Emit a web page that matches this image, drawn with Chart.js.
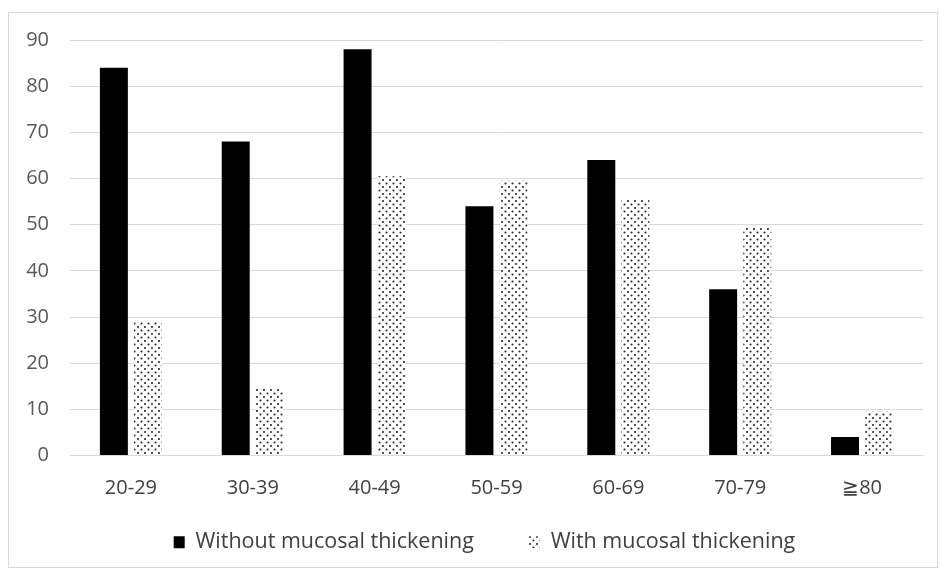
<!DOCTYPE html>
<html>
<head>
<meta charset="utf-8">
<script src="https://cdn.jsdelivr.net/npm/chart.js@4.4.0/dist/chart.umd.min.js"></script>
<style>
  html, body { margin: 0; padding: 0; background: #ffffff; }
  #wrap { width: 940px; height: 571px; position: relative; }
</style>
</head>
<body>
<div id="wrap"><canvas id="c" width="940" height="571"></canvas></div>
<script>
const categories = ["20-29", "30-39", "40-49", "50-59", "60-69", "70-79", "≧80"];
const withoutThickening = [84, 68, 88, 54, 64, 36, 4];
const withThickening = [29, 14.5, 60.5, 59.5, 55.5, 49.5, 9.5];
const seriesNames = ["Without mucosal thickening", "With mucosal thickening"];
const yTicks = { min: 0, max: 90, step: 10 };

function makeDots() {
  const p = document.createElement('canvas');
  p.width = 7; p.height = 7;
  const g = p.getContext('2d');
  g.fillStyle = '#ffffff';
  g.fillRect(0, 0, 7, 7);
  g.fillStyle = '#2a2a2a';
  g.beginPath(); g.arc(1.5, 1.5, 1.05, 0, Math.PI * 2); g.fill();
  g.beginPath(); g.arc(5, 5, 1.05, 0, Math.PI * 2); g.fill();
  return document.getElementById('c').getContext('2d').createPattern(p, 'repeat');
}
const dots = makeDots();

const borderPlugin = {
  id: 'frame',
  beforeDraw(chart) {
    const ctx = chart.ctx;
    ctx.save();
    ctx.fillStyle = '#ffffff';
    ctx.fillRect(0, 0, chart.width, chart.height);
    ctx.strokeStyle = '#d9d9d9';
    ctx.lineWidth = 1;
    ctx.strokeRect(8.5, 12.5, 929, 555);
    ctx.restore();
  }
};

function noLabelClip(scale) { scale._computeLabelArea = function () { return undefined; }; }

new Chart(document.getElementById('c'), {
  type: 'bar',
  data: {
    labels: categories,
    datasets: [
      { label: seriesNames[0], data: withoutThickening, backgroundColor: '#000000', borderWidth: 0 },
      { label: seriesNames[1], data: withThickening, backgroundColor: dots, borderWidth: 0 }
    ]
  },
  options: {
    responsive: false,
    animation: false,
    devicePixelRatio: 1,
    layout: { padding: { left: 46, right: 17, top: 40, bottom: 8 } },
    plugins: {
      tooltip: { enabled: false },
      legend: {
        position: 'bottom',
        labels: {
          boxWidth: 11,
          boxHeight: 12,
          padding: 55,
          color: '#404040',
          font: { family: 'Open Sans', size: 21.5 }
        }
      }
    },
    datasets: { bar: { categoryPercentage: 0.56, barPercentage: 0.82 } },
    scales: {
      x: {
        afterFit(scale) { scale.height = 21; },
        afterUpdate: noLabelClip,
        grid: { display: false, drawTicks: false },
        border: { display: true, color: '#d9d9d9', width: 1 },
        ticks: { color: '#404040', font: { family: 'Open Sans', size: 20 }, padding: 21 }
      },
      y: {
        min: yTicks.min, max: yTicks.max,
        afterFit(scale) { scale.width = 24; },
        afterUpdate: noLabelClip,
        grid: { color: '#d9d9d9', drawTicks: false },
        border: { display: false },
        ticks: { stepSize: yTicks.step, color: '#595959', font: { family: 'Open Sans', size: 20 }, padding: 21 }
      }
    }
  },
  plugins: [borderPlugin]
});
</script>
</body>
</html>
